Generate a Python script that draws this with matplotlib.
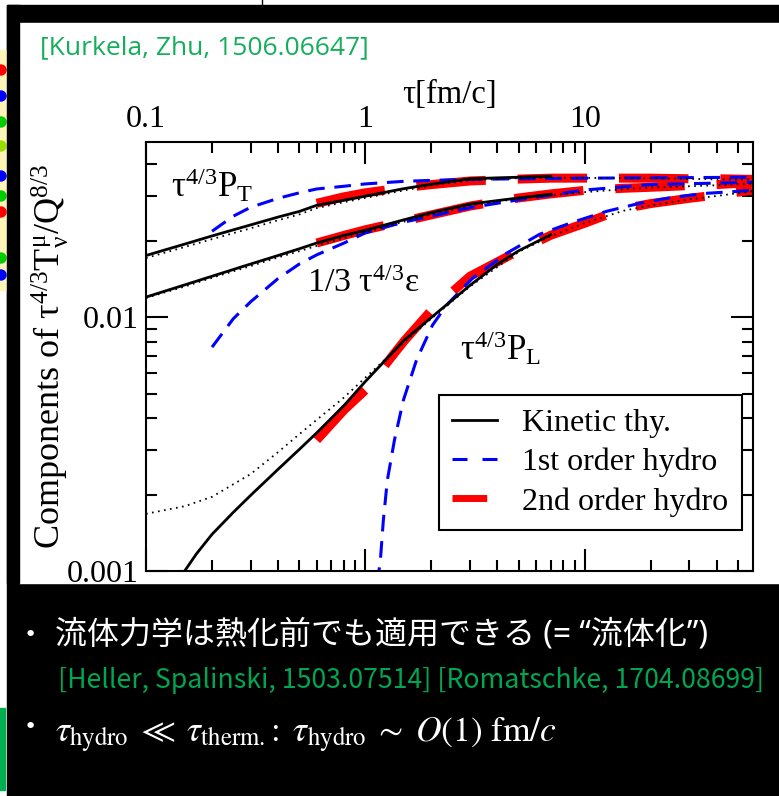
import numpy as np
import matplotlib
matplotlib.use('Agg')
import matplotlib.pyplot as plt
from matplotlib.lines import Line2D
from matplotlib.patches import Rectangle, Circle
from matplotlib.ticker import NullFormatter

# Fontes: Times-like para o gráfico
plt.rcParams['font.family'] = ['Liberation Serif', 'DejaVu Serif']
plt.rcParams['mathtext.fontset'] = 'custom'
plt.rcParams['mathtext.rm'] = 'Liberation Serif'
plt.rcParams['mathtext.it'] = 'Liberation Serif:italic'
plt.rcParams['lines.scale_dashes'] = False

# ---------------- dados ----------------
# teoria cinética (linha cheia)
tau_kin = [0.1, 0.15, 0.2, 0.3, 0.4, 0.5, 0.6, 0.8, 1, 1.5, 2, 3, 4, 5, 7]
pt_kin = [0.0175, 0.0194, 0.0209, 0.0231, 0.0248, 0.0261, 0.0276, 0.0289, 0.0300,
          0.0321, 0.0334, 0.0351, 0.0354, 0.0356, 0.0359]
e_kin = [0.0120, 0.0134, 0.0145, 0.0162, 0.0175, 0.0186, 0.0196, 0.0210, 0.0220,
         0.0242, 0.0258, 0.0279, 0.0288, 0.0295, 0.0305]
tau_kin_pl = [0.14, 0.15, 0.17, 0.2, 0.25, 0.3, 0.4, 0.5, 0.6, 0.8, 1, 1.5, 2, 3, 4, 5, 7]
pl_kin = [0.000925, 0.00100, 0.00117, 0.001395, 0.001703, 0.001987, 0.002516, 0.003014,
          0.003501, 0.00449, 0.00558, 0.00810, 0.00998, 0.01335, 0.01616, 0.01827, 0.02113]

# teoria cinética (pontilhado)
tau_dot = [0.1, 0.15, 0.2, 0.3, 0.4, 0.5, 0.6, 0.8, 1, 1.5, 2, 3, 5, 7, 10, 15, 20, 30, 40, 58]
pt_dot = [0.0171, 0.0189, 0.0203, 0.0224, 0.0241, 0.0254, 0.0269, 0.0284, 0.0295, 0.0316,
          0.0331, 0.0346, 0.0353, 0.0354, 0.0354, 0.0353, 0.0353, 0.0351, 0.0349, 0.0349]
e_dot = [0.0119, 0.0132, 0.0143, 0.0159, 0.0172, 0.0182, 0.0191, 0.0205, 0.0216, 0.0238,
         0.0254, 0.0276, 0.0293, 0.0302, 0.0311, 0.0319, 0.0324, 0.0328, 0.0331, 0.0336]
pl_dot = [0.00168, 0.00180, 0.00196, 0.00241, 0.00294, 0.00346, 0.00394, 0.00483, 0.00578,
          0.00797, 0.00987, 0.01321, 0.01809, 0.02084, 0.02347, 0.02626, 0.02754, 0.02914,
          0.03003, 0.03134]

# hidro de 1a ordem
tau_h1 = [0.2, 0.25, 0.3, 0.4, 0.5, 0.6, 0.8, 1, 1.5, 2, 3, 5, 10, 20, 58]
pt_h1 = [0.0218, 0.0250, 0.0271, 0.0294, 0.0309, 0.0320, 0.0328, 0.0335, 0.0343, 0.0346,
         0.0349, 0.0351, 0.0353, 0.0354, 0.0356]
e_h1 = [0.00762, 0.00986, 0.0115, 0.0142, 0.0162, 0.0176, 0.0196, 0.0215, 0.0237, 0.0250,
        0.0270, 0.0290, 0.0317, 0.0333, 0.0340]
tau_h1_pl = [1.13, 1.147, 1.171, 1.208, 1.26, 1.357, 1.491, 1.71, 2.023, 2.344, 3.08,
             4.404, 6.231, 8.813, 12.61, 17.83, 25.22, 36.07, 58.5]
pl_h1 = [0.0007, 0.000964, 0.001105, 0.001588, 0.002282, 0.003279, 0.004713, 0.006772,
         0.00930, 0.01115, 0.01424, 0.01786, 0.02122, 0.02366, 0.02614, 0.02811, 0.02968,
         0.03077, 0.0316]

# hidro de 2a ordem
tau_h2 = [0.6, 0.8, 1, 1.5, 2, 3, 5, 7, 10, 15, 20, 30, 40, 58]
pt_h2 = [0.0281, 0.0298, 0.0309, 0.0324, 0.0333, 0.0344, 0.0350, 0.0353, 0.0353, 0.0353,
         0.0353, 0.0351, 0.0351, 0.0349]
e_h2 = [0.0196, 0.0210, 0.0221, 0.0239, 0.0253, 0.0274, 0.0295, 0.0306, 0.0316, 0.0322,
        0.0325, 0.0330, 0.0333, 0.0339]
pl_h2 = [0.00328, 0.00431, 0.00516, 0.00804, 0.01065, 0.01450, 0.01827, 0.02103, 0.02345,
         0.02675, 0.02803, 0.02940, 0.03030, 0.03162]

x_ticks = [0.1, 1, 10]
x_ticklabels = ['0.1', '1', '10']
y_ticks = [0.001, 0.01]
y_ticklabels = ['0.001', '0.01']
legend_labels = ['Kinetic thy.', '1st order hydro', '2nd order hydro']

# ---------------- figura (coordenadas em pixels) ----------------
W, H = 779, 796
fig = plt.figure(figsize=(W / 100, H / 100), dpi=100)

bg = fig.add_axes([0, 0, 1, 1], zorder=-10)
bg.set_xlim(0, W)
bg.set_ylim(H, 0)
bg.axis('off')
bg.add_patch(Rectangle((7, 5), W - 7, H - 5, color='black'))
bg.add_patch(Rectangle((19, 23), W - 19, 583 - 23, color='white'))
bg.add_patch(Rectangle((0, 50), 7, 240, color='#FFF4B8'))
bg.add_patch(Rectangle((0, 708), 5, 82, color='#00B050'))
bg.plot([262, 262], [0, 5], color='black', lw=1)
dots = [(70, 'red'), (96, 'blue'), (122, '#00CC00'), (146, '#99DD00'), (176, 'blue'),
        (196, '#00CC00'), (212, 'red'), (258, '#00CC00'), (275, 'blue')]
for yy, cc in dots:
    bg.add_patch(Circle((1, yy), 5, color=cc))
bg.add_patch(Rectangle((7, 5), 12, 578, color='black'))

# eixo principal
ax = fig.add_axes([146 / W, 1 - 571 / H, (753 - 146) / W, (571 - 142) / H])
ax.set_xscale('log')
ax.set_yscale('log')

for y, t in [(pt_h2, tau_h2), (e_h2, tau_h2), (pl_h2, tau_h2)]:
    ax.plot(t, y, color='red', lw=6.5, dashes=(50, 23), dash_capstyle='butt')
for t, y in [(tau_h1, pt_h1), (tau_h1, e_h1), (tau_h1_pl, pl_h1)]:
    ax.plot(t, y, color='blue', lw=2.2, dashes=(12, 7))
for y in [pt_dot, e_dot, pl_dot]:
    ax.plot(tau_dot, y, color='black', lw=1.3, dashes=(1.2, 3.2))
for t, y in [(tau_kin, pt_kin), (tau_kin, e_kin), (tau_kin_pl, pl_kin)]:
    ax.plot(t, y, color='black', lw=2)

ax.set_xlim(0.1, 58.5)
ax.set_ylim(0.001, 0.049)
ax.set_xticks(x_ticks)
ax.set_xticklabels(x_ticklabels)
ax.set_yticks(y_ticks)
ax.set_yticklabels(y_ticklabels)
ax.xaxis.set_minor_formatter(NullFormatter())
ax.yaxis.set_minor_formatter(NullFormatter())
ax.tick_params(which='both', direction='in', top=True, bottom=True, left=True, right=True,
               labeltop=True, labelbottom=False, width=1.5)
ax.tick_params(which='major', length=16)
ax.tick_params(which='minor', length=8)
ax.tick_params(axis='x', labelsize=23, pad=6)
ax.tick_params(axis='y', labelsize=23, pad=5)
for s in ax.spines.values():
    s.set_linewidth(1.5)

ax.xaxis.set_label_position('top')
ax.set_xlabel('τ[fm/c]', fontsize=23.5, labelpad=1)
ax.set_ylabel(r'Components of $\mathrm{τ^{4/3}T^{μ}_{ν}/Q^{8/3}}$', fontsize=26)
ax.yaxis.set_label_coords(-0.124, 0.5)

ax.text(0.130, 0.0297, r'$\mathrm{τ^{4/3}P_T}$', fontsize=25)
ax.text(0.544, 0.01254, r'1/3 $\mathrm{τ^{4/3}ε}$', fontsize=24.5)
ax.text(2.69, 0.00677, r'$\mathrm{τ^{4/3}P_L}$', fontsize=25)

handles = [Line2D([], [], color='black', lw=2),
           Line2D([], [], color='blue', lw=2.2, dashes=(10.8, 10.8)),
           Line2D([], [], color='red', lw=5, dashes=(25, 100), dash_capstyle='butt')]
leg = ax.legend(handles, legend_labels, loc='upper left',
                bbox_to_anchor=(439 / W, 1 - 395 / H), bbox_transform=fig.transFigure,
                fontsize=23, handlelength=1.4, handletextpad=0.78, borderpad=0.42,
                labelspacing=0.31, borderaxespad=0, fancybox=False, framealpha=1,
                edgecolor='black')
leg.get_frame().set_linewidth(1.5)

# textos do slide
fig.text(40 / W, 1 - 48 / H, '[Kurkela, Zhu, 1506.06647]', color='#14AE5C', fontsize=19,
         family=['Open Sans'], va='center')
for yy in [635, 727]:
    fig.text(30 / W, 1 - yy / H, '•', color='white', fontsize=16, family='DejaVu Sans',
             va='center', ha='center')
fig.text(55 / W, 1 - 635 / H, '流体力学は熱化前でも適用できる (= “流体化”)', color='white',
         fontsize=23, family=['Noto Sans', 'Noto Sans CJK JP'], va='center')
fig.text(58 / W, 1 - 680 / H, '[Heller, Spalinski, 1503.07514] [Romatschke, 1704.08699]',
         color='#00A651', fontsize=19.2, family=['Noto Sans CJK JP'], va='center')
fig.text(55 / W, 1 - 735 / H,
         r'$\tau_{\mathrm{hydro}}\;\ll\;\tau_{\mathrm{therm.}}\!:\;\tau_{\mathrm{hydro}}\;\sim\;O(1)\ \mathrm{fm}/c$',
         color='white', fontsize=25.5, math_fontfamily='stix', va='center')

fig.savefig('out.png', dpi=100)
